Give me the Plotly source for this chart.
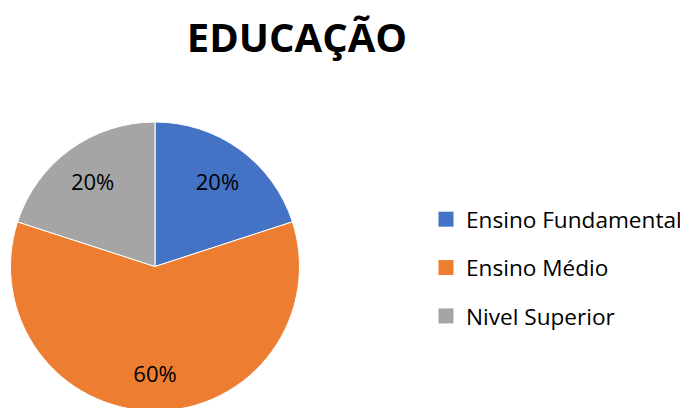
import plotly.graph_objects as go

categories = ["Ensino Fundamental", "Ensino Médio", "Nivel Superior"]
values = [20, 60, 20]
colors = ["#4472C4", "#ED7D31", "#A5A5A5"]

W, H = 688, 408
OFF = 8  # page body margin offset
FONT = "Open Sans"

cx, cy, r = 155 - OFF, 266.5 - OFF, 144.5
dom = dict(x=[(cx - r) / W, (cx + r) / W], y=[(H - (cy + r)) / H, (H - (cy - r)) / H])

fig = go.Figure()
# coloured slices
fig.add_trace(go.Pie(
    labels=categories, values=values, sort=False, direction="clockwise", rotation=0,
    marker=dict(colors=colors, line=dict(color="white", width=1)),
    textinfo="none", showlegend=False, hoverinfo="label+percent",
    domain=dom,
))
# percentage labels placed in the outer ring
fig.add_trace(go.Pie(
    labels=categories, values=values, sort=False, direction="clockwise", rotation=0,
    hole=0.47,
    marker=dict(colors=["rgba(0,0,0,0)"] * len(values), line=dict(width=0)),
    textinfo="percent", texttemplate="%{percent:.0%}",
    textposition="inside", insidetextorientation="horizontal",
    textfont=dict(family=FONT, size=22, color="black"),
    showlegend=False, hoverinfo="skip",
    domain=dom,
))

# legend entries (one group per category so the spacing can be set)
for name, col in zip(categories, colors):
    fig.add_trace(go.Scatter(
        x=[None], y=[None], mode="markers", name=name, legendgroup=name,
        marker=dict(symbol="square", size=15, color=col),
        showlegend=True,
    ))

fig.update_layout(
    width=W, height=H,
    margin=dict(l=0, r=0, t=0, b=0),
    paper_bgcolor="white", plot_bgcolor="white",
    xaxis=dict(visible=False), yaxis=dict(visible=False),
    title=dict(text="<b>EDUCAÇÃO</b>", x=(297 - OFF) / W, xanchor="center",
               y=1 - (38 - OFF) / H, yanchor="middle", yref="container", xref="container",
               font=dict(family=FONT, size=40, color="black")),
    legend=dict(x=(467 - 41 - OFF) / W, xanchor="left", y=1 - (200 - OFF - 2) / H, yanchor="top",
                font=dict(family=FONT, size=22.6, color="black"),
                tracegroupgap=16, itemsizing="trace",
                bgcolor="rgba(0,0,0,0)"),
)

fig.write_html("out.html")
